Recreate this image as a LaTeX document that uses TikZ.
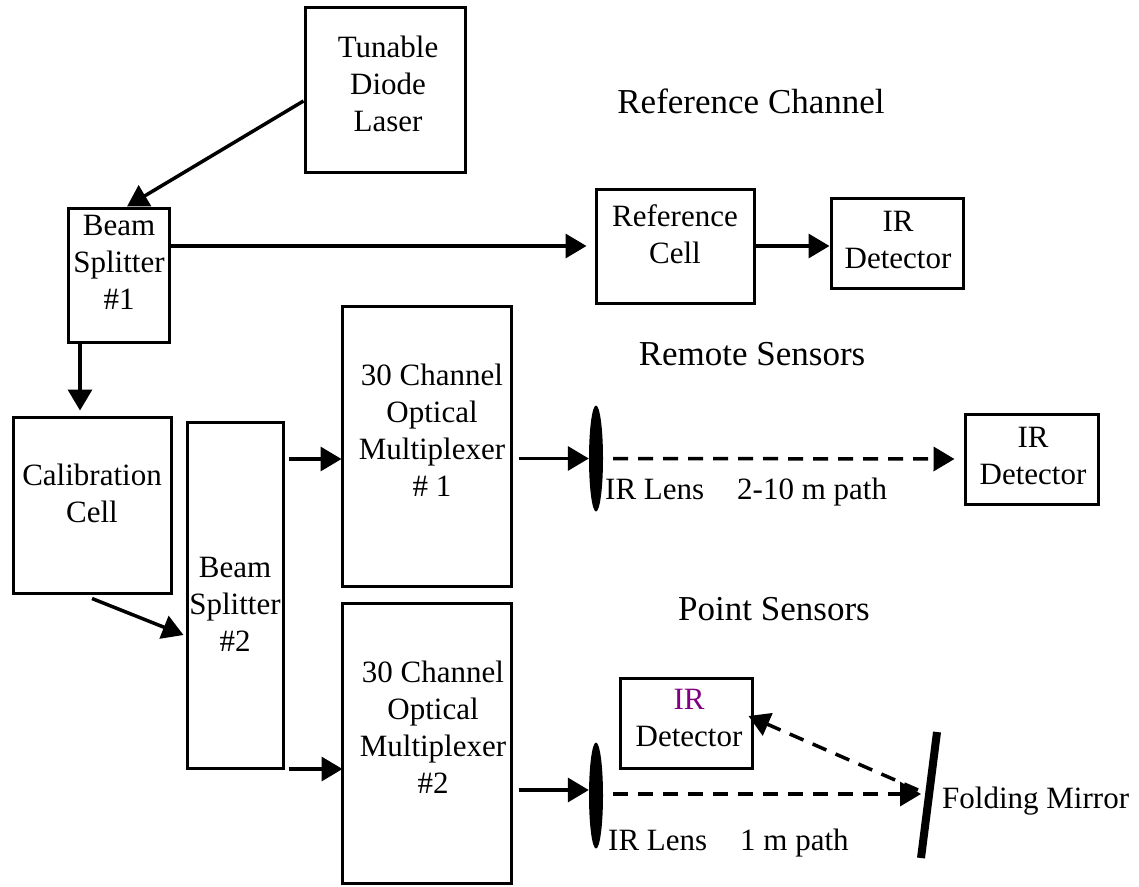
\documentclass[tikz,border=0pt]{standalone}
\usepackage{fontspec}
\setmainfont{Liberation Serif}
\usetikzlibrary{arrows.meta,shapes.geometric}
\definecolor{irpurple}{RGB}{128,0,128}
\begin{document}
\begin{tikzpicture}[x=1pt,y=-1pt,
  box/.style={draw, line width=3pt, inner sep=0pt, rectangle},
  lbl/.style={inner sep=0pt, anchor=north, align=center, font=\fontsize{31}{37}\selectfont},
  note/.style={inner sep=0pt, anchor=base west, font=\fontsize{31}{37}\selectfont},
  ttl/.style={inner sep=0pt, anchor=base, font=\fontsize{35}{41}\selectfont},
  conn/.style={line width=3.5pt, -{Triangle[length=21pt,width=24pt]}},
  dconn/.style={conn, dash pattern=on 15pt off 10pt},
  lens/.style={ellipse, fill, inner sep=0pt, minimum width=14pt, minimum height=106pt},
]
\useasboundingbox (0,0) rectangle (1139,886);

% boxes
\node[box, minimum width=160pt, minimum height=165pt] (laser) at (385,89.5) {};
\node[box, minimum width=101pt, minimum height=134pt] (bs1) at (118.5,275) {};
\node[box, minimum width=158pt, minimum height=114pt] (refcell) at (675,246) {};
\node[box, minimum width=132pt, minimum height=90pt] (irref) at (897,243) {};
\node[box, minimum width=158pt, minimum height=176pt] (cal) at (92,505) {};
\node[box, minimum width=96pt, minimum height=346pt] (bs2) at (235,595) {};
\node[box, minimum width=169pt, minimum height=280pt] (mux1) at (426.5,446) {};
\node[box, minimum width=169pt, minimum height=280pt] (mux2) at (426.5,743) {};
\node[box, minimum width=133pt, minimum height=90pt] (irrem) at (1031.5,459) {};
\node[box, minimum width=132pt, minimum height=90pt] (irpt) at (686,723) {};

% box texts
\node[lbl] (laser-t) at (388,35.8) {Tunable\\Diode\\Laser};
\node[lbl] (bs1-t) at (119,214.5) {Beam\\Splitter\\\#1};
\node[lbl] (refcell-t) at (675,204.8) {Reference\\Cell};
\node[lbl] (irref-t) at (898,210.5) {IR\\Detector};
\node[lbl] (cal-t) at (92,463.8) {Calibration\\Cell};
\node[lbl] (bs2-t) at (235,556.5) {Beam\\Splitter\\\#2};
\node[lbl] (mux1-t) at (432,363.8) {30 Channel\\Optical\\Multiplexer\\\# 1};
\node[lbl] (mux2-t) at (433,660.8) {30 Channel\\Optical\\Multiplexer\\\#2};
\node[lbl] (irrem-t) at (1033,426.5) {IR\\Detector};
\node[lbl] (irpt-t) at (689,688.5) {\textcolor{irpurple}{IR}\\Detector};

% titles
\node[ttl] (t-ref) at (751,113) {Reference Channel};
\node[ttl] (t-rem) at (752,365) {Remote Sensors};
\node[ttl] (t-pt) at (774,620) {Point Sensors};

% lenses and mirror
\node[lens] (lens1) at (596,458.5) {};
\node[lens] (lens2) at (596,795.5) {};
\coordinate (mtop) at (937,732);
\coordinate (mbot) at (921,858);
\draw[line width=8pt] (mtop) -- (mbot);

% labels
\node[note] (lens1-t) at (605,499) {IR Lens\hspace{33pt}2-10 m path};
\node[note] (lens2-t) at (608,850) {IR Lens\hspace{33pt}1 m path};
\node[note] (mirror-t) at (942,808) {Folding Mirror};

% helper coordinates
\coordinate (bs2e) at ([xshift=4pt]bs2.east);
\coordinate (m1in) at ([xshift=1pt,yshift=-13pt]mux1.west);
\coordinate (m2in) at ([xshift=2pt,yshift=-26pt]mux2.west);
\coordinate (mux1o) at ([xshift=6pt]mux1.east);
\coordinate (mux2o) at ([xshift=6pt]mux2.east);
\coordinate (l2in) at ([yshift=5.5pt]lens2.west);
\coordinate (mhit) at (921,794);
\coordinate (mout) at (918,790);

% connectors
\draw[conn] ([yshift=-11.5pt]laser.west) -- ([xshift=8.5pt]bs1.north);
\draw[conn] ([yshift=29pt]bs1.east) -- ([xshift=-8pt]refcell.west);
\draw[conn] (refcell.east) -- (refcell.east -| irref.west);
\draw[conn] ([xshift=-38.5pt]bs1.south) -- ([xshift=-12pt,yshift=5pt]cal.north);
\draw[conn] ([yshift=-4pt]cal.south) -- ([xshift=-2pt,yshift=-40pt]bs2.west);
\draw[conn] (bs2e |- m1in) -- (m1in);
\draw[conn] (bs2e |- m2in) -- (m2in);
\draw[conn] (mux1o |- lens1.west) -- (lens1.west);
\draw[dconn] ([xshift=10pt]lens1.east) -- ([xshift=-9pt]irrem.west);
\draw[conn] (mux2o |- l2in) -- (l2in);
\draw[dconn] ([xshift=10pt,yshift=1.5pt]lens2.east) -- (mhit);
\draw[dconn] (mout) -- ([xshift=-5pt,yshift=7pt]irpt.east);
\end{tikzpicture}
\end{document}
